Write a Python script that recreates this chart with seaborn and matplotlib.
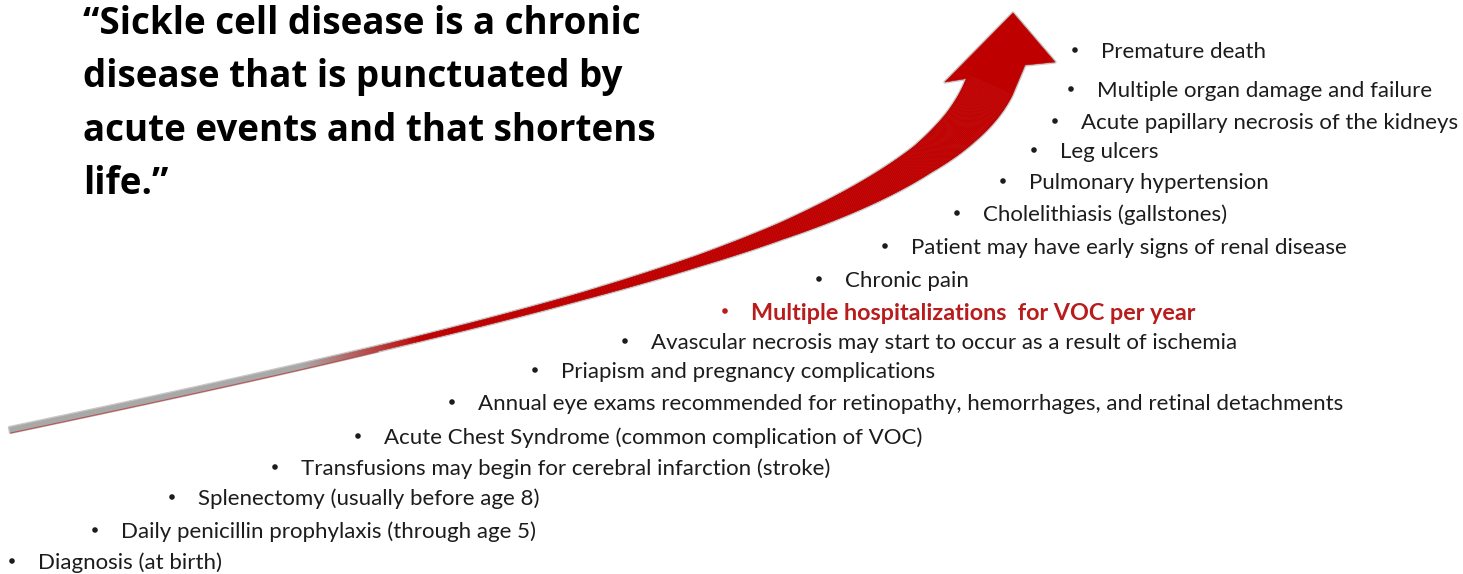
import numpy as np
import pandas as pd
import matplotlib.pyplot as plt
import seaborn as sns
from matplotlib.collections import PolyCollection
from matplotlib.patches import Polygon

# --- content ---
title_lines = ["“Sickle cell disease is a chronic",
               "disease that is punctuated by",
               "acute events and that shortens",
               "life.”"]

items = ["Premature death",
         "Multiple organ damage and failure",
         "Acute papillary necrosis of the kidneys",
         "Leg ulcers",
         "Pulmonary hypertension",
         "Cholelithiasis (gallstones)",
         "Patient may have early signs of renal disease",
         "Chronic pain",
         "Multiple hospitalizations  for VOC per year",
         "Avascular necrosis may start to occur as a result of ischemia",
         "Priapism and pregnancy complications",
         "Annual eye exams recommended for retinopathy, hemorrhages, and retinal detachments",
         "Acute Chest Syndrome (common complication of VOC)",
         "Transfusions may begin for cerebral infarction (stroke)",
         "Splenectomy (usually before age 8)",
         "Daily penicillin prophylaxis (through age 5)",
         "Diagnosis (at birth)"]
highlight = "Multiple hospitalizations  for VOC per year"

# --- layout (pixel space, y grows downward) ---
item_y = [50, 89, 121, 150, 181, 213, 246, 279, 311, 341, 370, 402, 436, 467, 497, 530, 561]
text_x = [1101, 1097, 1081, 1060, 1029, 983, 911, 845, 751, 651, 561, 478, 384, 301, 198, 121, 38]
bullet_gap = 26

# arrow: cubic bezier spine + width profile + head corners
spine_ctrl = [(10, 430), (560, 314), (930, 223), (990, 85)]
width_x = [10, 400, 500, 580, 700, 780, 857, 923, 961, 990]
width_half = [2.5, 2.5, 3, 3.5, 5.5, 8, 12, 15.5, 20, 24.5]
head_pts = [(970, 78), (945, 82), (1013, 13), (1055, 62), (1025, 65)]

RED = np.array([0.75, 0.0, 0.0])
GRAY = np.array([0.66, 0.66, 0.66])
TXT = "#1c1c1c"
HI = "#b81c1c"
fam = ["Lato", "DejaVu Sans"]
title_fam = ["Open Sans", "DejaVu Sans"]

sns.set_style("white")
plt.rcParams["font.family"] = fam

fig = plt.figure(figsize=(14.63, 5.74), dpi=100)
ax = fig.add_axes([0, 0, 1, 1])

# --- arrow ---
P = np.array(spine_ctrl, dtype=float)
t = np.linspace(0, 1, 400)[:, None]
c = ((1 - t) ** 3 * P[0] + 3 * (1 - t) ** 2 * t * P[1]
     + 3 * (1 - t) * t ** 2 * P[2] + t ** 3 * P[3])
d = (3 * (1 - t) ** 2 * (P[1] - P[0]) + 6 * (1 - t) * t * (P[2] - P[1])
     + 3 * t ** 2 * (P[3] - P[2]))
d /= np.linalg.norm(d, axis=1)[:, None]
nrm = np.column_stack([d[:, 1], -d[:, 0]])
hw = np.interp(c[:, 0], width_x, width_half)
upper = c + nrm * hw[:, None]
lower = c - nrm * hw[:, None]

outline = np.vstack([upper, head_pts, lower[::-1]])
ax.add_patch(Polygon(outline, closed=True, facecolor="none", edgecolor="#9a9a9a",
                     lw=2.4, alpha=0.55, zorder=1, joinstyle="round"))

quads, cols = [], []
for i in range(len(c) - 1):
    quads.append([upper[i], upper[i + 1], lower[i + 1], lower[i]])
    f = np.clip((c[i, 0] - 300) / 120, 0, 1)
    cols.append(GRAY * (1 - f) + RED * f)
ax.add_collection(PolyCollection(quads, facecolors=cols, edgecolors=cols, lw=0.4, zorder=2))
ax.add_patch(Polygon([upper[-1], *head_pts, lower[-1]], closed=True,
                     facecolor=RED, edgecolor=RED, lw=0.4, zorder=2))
# faint red rim under the grey tail
tail = c[:, 0] < 380
ax.plot(lower[tail, 0], lower[tail, 1] + 0.6, color="#b01010", lw=0.8, alpha=0.6, zorder=3)

# --- title ---
for k, line in enumerate(title_lines):
    ax.text(83, 24 + 53.5 * k, line, fontsize=26.5, fontweight="bold", color="black",
            va="center", ha="left", family=title_fam)

# --- bullet list ---
df = pd.DataFrame({"item": items, "y": item_y, "x": text_x})
df["bx"] = df["x"] - bullet_gap
df["kind"] = np.where(df["item"] == highlight, "hi", "normal")
sns.scatterplot(data=df, x="bx", y="y", hue="kind", palette={"hi": HI, "normal": TXT},
                s=16, linewidth=0, legend=False, ax=ax, zorder=4)

for _, r in df.iterrows():
    hi = r["kind"] == "hi"
    ax.text(r["x"], r["y"] + 2, r["item"], fontsize=16.8 if hi else 16, va="center", ha="left",
            color=HI if hi else TXT, fontweight="bold" if hi else "normal", family=fam)

ax.set_xlim(0, 1463)
ax.set_ylim(574, 0)
ax.axis("off")

fig.savefig("out.png", dpi=100)
